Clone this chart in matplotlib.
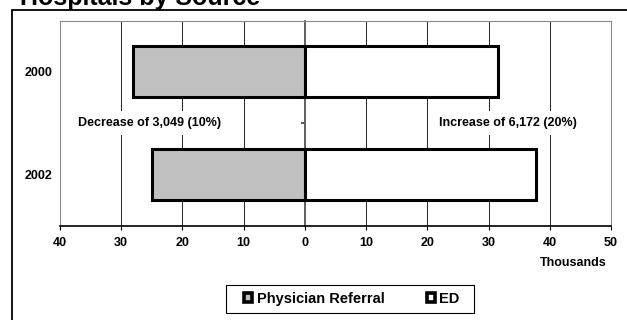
import matplotlib
matplotlib.use("Agg")
import matplotlib.pyplot as plt
from matplotlib.patches import Rectangle, Patch
from matplotlib.ticker import FuncFormatter

plt.rcParams['font.family'] = ['Liberation Sans', 'DejaVu Sans']
plt.rcParams['font.weight'] = 'bold'

# Admissions (thousands) by source
years = ["2000", "2002"]
physician_referral = [28.1, 25.051]
ed = [31.6, 37.772]
series_names = ["Physician Referral", "ED"]
notes = ["Decrease of 3,049 (10%)", "Increase of 6,172 (20%)"]
x_ticks = [-40, -30, -20, -10, 0, 10, 20, 30, 40, 50]

W, H = 627, 320
fig = plt.figure(figsize=(W / 100, H / 100), dpi=100)
fig.patch.set_facecolor("white")

# outer chart frame (runs past the right and bottom edges)
fig.patches.append(Rectangle((12 / W, -0.5), 2.0, 1 - 9.5 / H + 0.5,
                             transform=fig.transFigure, fill=False,
                             edgecolor="black", lw=1.3, zorder=0))

fig.text(20 / W, 1 - 5 / H, "Hospitals by Source", fontsize=18,
         fontweight="bold", va="baseline", ha="left")

ax = fig.add_axes([60 / W, 1 - 225.5 / H, 551 / W, 205 / H])
ypos = list(range(len(years)))

ax.barh(ypos, [-v for v in physician_referral], height=0.5,
        color="#c0c0c0", edgecolor="black", linewidth=2.2, zorder=3)
ax.barh(ypos, ed, height=0.5, color="white", edgecolor="black",
        linewidth=2.2, zorder=3)

ax.set_xlim(-40, 50)
ax.set_ylim(1.5, -0.5)
ax.set_xticks(x_ticks)
ax.xaxis.set_major_formatter(FuncFormatter(lambda v, p: f"{abs(v):g}"))
ax.tick_params(axis="x", direction="out", length=3, width=0.8,
               labelsize=9, pad=5, colors="black")
for lab in ax.get_xticklabels():
    lab.set_fontweight("bold")

ax.set_yticks(ypos)
ax.set_yticklabels(years, fontsize=9, fontweight="bold")
ax.tick_params(axis="y", length=0, pad=5.5)

for s in ["top", "right", "left"]:
    ax.spines[s].set_color("#8c8c8c")
    ax.spines[s].set_linewidth(0.8)
ax.spines["bottom"].set_color("black")
ax.spines["bottom"].set_linewidth(1.2)

# vertical gridlines
for v in x_ticks[1:-1]:
    if v != 0:
        ax.axvline(v, color="#303030", lw=0.75, zorder=1)

# category axis at zero
zero_axis = ax.secondary_yaxis(40 / 90)
zero_axis.set_yticks([0.5])
zero_axis.set_yticklabels([""])
zero_axis.tick_params(axis="y", direction="out", length=3, width=1.2,
                      colors="#404040")
zero_axis.spines["left"].set_color("#606060")
zero_axis.spines["left"].set_linewidth(1.4)

bbox = dict(boxstyle="square,pad=0.5", facecolor="white", edgecolor="none")
ax.text(-25.3, 0.5, notes[0], ha="center", va="center", fontsize=9,
        fontweight="bold", bbox=bbox, zorder=4)
ax.text(33.2, 0.5, notes[1], ha="center", va="center", fontsize=9,
        fontweight="bold", bbox=bbox, zorder=4)

ax.text((573 - 60) / 551, -(263 - 225.5) / 205, "Thousands",
        transform=ax.transAxes, ha="center", va="center", fontsize=9,
        fontweight="bold")

# legend box
fig.patches.append(Rectangle((226 / W, 1 - 313 / H), 248 / W, 28 / H,
                             transform=fig.transFigure, facecolor="white",
                             edgecolor="black", lw=0.8, zorder=1))
handles = [Patch(facecolor="#c0c0c0", edgecolor="black", lw=2.6),
           Patch(facecolor="white", edgecolor="black", lw=2.6)]
leg = fig.legend(handles, series_names, loc="center",
                 bbox_to_anchor=(352 / W, 1 - 299 / H), ncol=2,
                 frameon=False, handlelength=0.55,
                 handleheight=0.55, handletextpad=0.3, columnspacing=2.9,
                 prop={"weight": "bold", "size": 10.5})
leg.set_zorder(5)

fig.savefig("out.png", dpi=100, facecolor="white")
